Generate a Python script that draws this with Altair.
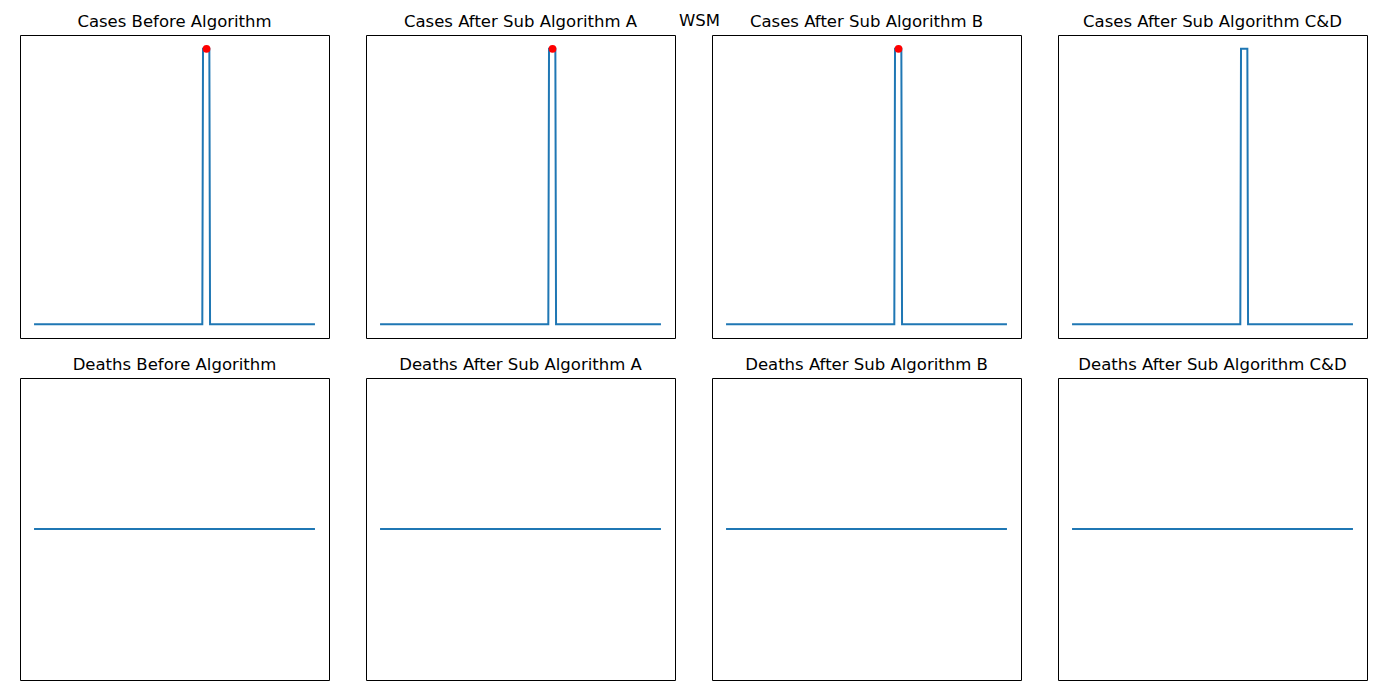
import altair as alt
import pandas as pd

# --- data (day index of line vertices, values) ---
case_days = [0, 239, 240, 249, 250, 399]
case_vals = [0, 0, 15, 15, 0, 0]
death_days = [0, 399]
death_vals = [0, 0]
outlier_day = [245]
outlier_val = [15]

case_titles = ["Cases Before Algorithm", "Cases After Sub Algorithm A",
               "Cases After Sub Algorithm B", "Cases After Sub Algorithm C&D"]
death_titles = ["Deaths Before Algorithm", "Deaths After Sub Algorithm A",
                "Deaths After Sub Algorithm B", "Deaths After Sub Algorithm C&D"]
has_outlier = [True, True, True, False]

W = 309
xmin, xmax = 0, 399
xpad = 0.05 * (xmax - xmin)
xdom = [xmin - xpad, xmax + xpad]
ymax = 15
ydom_cases = [-0.05 * ymax, 1.05 * ymax]
ydom_deaths = [-0.055, 0.055]

BLUE = "#1f77b4"


def panel(days, vals, title, ydom, dot, h):
    df = pd.DataFrame({"day": days, "value": vals})
    x = alt.X("day:Q", scale=alt.Scale(domain=xdom, nice=False, zero=False), axis=None)
    y = alt.Y("value:Q", scale=alt.Scale(domain=ydom, nice=False, zero=False), axis=None)
    line = alt.Chart(df).mark_line(color=BLUE, strokeWidth=2, clip=True).encode(x=x, y=y)
    layers = [line]
    if dot:
        ddf = pd.DataFrame({"day": outlier_day, "value": outlier_val})
        pts = alt.Chart(ddf).mark_point(filled=True, color="red", size=60, opacity=1).encode(x=x, y=y)
        layers.append(pts)
    return alt.layer(*layers).properties(
        width=W, height=h,
        title=alt.TitleParams(title, fontSize=16.5, font="DejaVu Sans", fontWeight="normal",
                              color="black", anchor="middle", offset=-8, baseline="alphabetic"),
    )


row1 = alt.hconcat(*[panel(case_days, case_vals, t, ydom_cases, d, 303)
                     for t, d in zip(case_titles, has_outlier)], spacing=35)
row2 = alt.hconcat(*[panel(death_days, death_vals, t, ydom_deaths, False, 302)
                     for t in death_titles], spacing=35)

chart = alt.vconcat(row1, row2, spacing=17).properties(
    title=alt.TitleParams("WSM", fontSize=16.5, font="DejaVu Sans", fontWeight="normal",
                          color="black", anchor="middle", offset=-20, dx=6, dy=-4),
    padding={"left": 19, "top": 12, "right": 0, "bottom": 0},
).configure(background="white").configure_view(stroke="black", strokeWidth=1)

chart.save("out.html", embed_options={"renderer": "svg", "actions": False})
